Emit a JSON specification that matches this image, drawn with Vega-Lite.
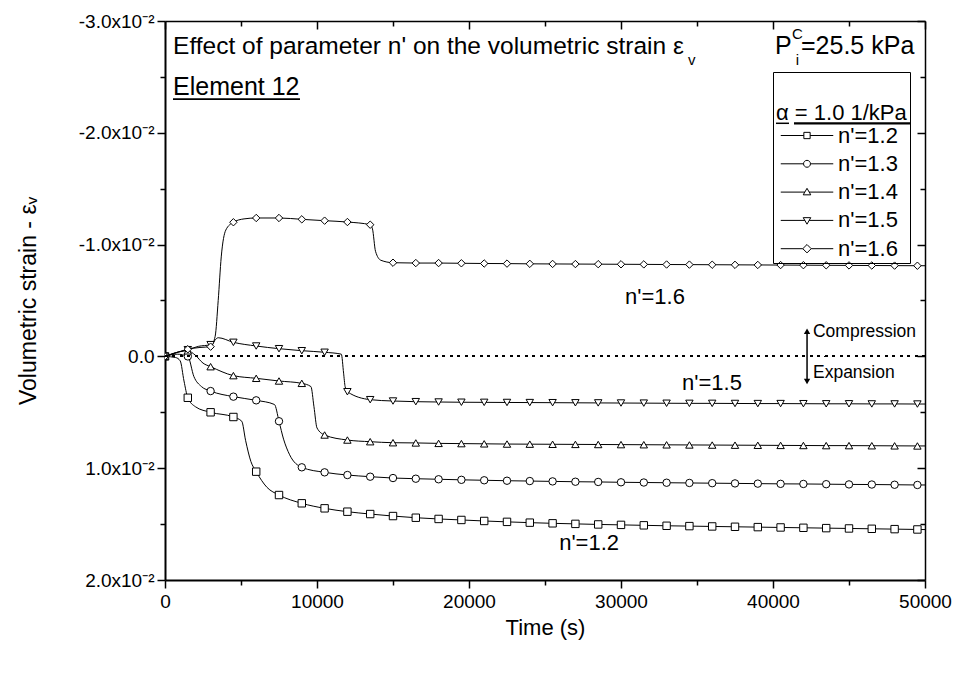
{
  "$schema": "https://vega.github.io/schema/vega-lite/v6.json",
  "width": 760,
  "height": 559,
  "autosize": "none",
  "padding": {"left": 165, "top": 21, "right": 36, "bottom": 95},
  "background": "white",
  "config": {
    "font": "Liberation Sans",
    "view": {"stroke": null},
    "axis": {"grid": false, "domainColor": "black", "tickColor": "black", "labelColor": "black", "titleColor": "black", "titleFontWeight": "normal", "labelFontSize": 19, "titleFontSize": 22, "tickWidth": 1.5, "labelOverlap": false, "labelFlush": false}
  },
  "data": {"values": [
    {"s":"1.2","t":0,"v":0,"m":1},{"s":"1.2","t":700,"v":0.0001,"m":0},{"s":"1.2","t":1000,"v":0.0004,"m":0},{"s":"1.2","t":1250,"v":0.0022,"m":0},{"s":"1.2","t":1500,"v":0.0037,"m":1},{"s":"1.2","t":2000,"v":0.0045,"m":0},{"s":"1.2","t":3000,"v":0.005,"m":1},{"s":"1.2","t":4500,"v":0.00542,"m":1},{"s":"1.2","t":5050,"v":0.0058,"m":0},{"s":"1.2","t":5300,"v":0.0075,"m":0},{"s":"1.2","t":5650,"v":0.0094,"m":0},{"s":"1.2","t":6000,"v":0.01031,"m":1},{"s":"1.2","t":6700,"v":0.0117,"m":0},{"s":"1.2","t":7500,"v":0.0124,"m":1},{"s":"1.2","t":9000,"v":0.01314,"m":1},{"s":"1.2","t":10500,"v":0.01359,"m":1},{"s":"1.2","t":12000,"v":0.01389,"m":1},{"s":"1.2","t":13500,"v":0.0141,"m":1},{"s":"1.2","t":15000,"v":0.01428,"m":1},{"s":"1.2","t":16500,"v":0.01443,"m":1},{"s":"1.2","t":18000,"v":0.01454,"m":1},{"s":"1.2","t":19500,"v":0.01463,"m":1},{"s":"1.2","t":21000,"v":0.01472,"m":1},{"s":"1.2","t":22500,"v":0.0148,"m":1},{"s":"1.2","t":24000,"v":0.01487,"m":1},{"s":"1.2","t":25500,"v":0.01493,"m":1},{"s":"1.2","t":27000,"v":0.01498,"m":1},{"s":"1.2","t":28500,"v":0.01503,"m":1},{"s":"1.2","t":30000,"v":0.01507,"m":1},{"s":"1.2","t":31500,"v":0.01511,"m":1},{"s":"1.2","t":33000,"v":0.01515,"m":1},{"s":"1.2","t":34500,"v":0.01518,"m":1},{"s":"1.2","t":36000,"v":0.01521,"m":1},{"s":"1.2","t":37500,"v":0.01524,"m":1},{"s":"1.2","t":39000,"v":0.01527,"m":1},{"s":"1.2","t":40500,"v":0.0153,"m":1},{"s":"1.2","t":42000,"v":0.01533,"m":1},{"s":"1.2","t":43500,"v":0.01536,"m":1},{"s":"1.2","t":45000,"v":0.01539,"m":1},{"s":"1.2","t":46500,"v":0.01542,"m":1},{"s":"1.2","t":48000,"v":0.01545,"m":1},{"s":"1.2","t":49500,"v":0.01548,"m":1},{"s":"1.2","t":50000,"v":0.01549,"m":0},
    {"s":"1.3","t":0,"v":0,"m":1},{"s":"1.3","t":800,"v":-0.0002,"m":0},{"s":"1.3","t":1500,"v":0.0,"m":1},{"s":"1.3","t":1900,"v":0.0018,"m":0},{"s":"1.3","t":2400,"v":0.0027,"m":0},{"s":"1.3","t":3000,"v":0.0031,"m":1},{"s":"1.3","t":4500,"v":0.0036,"m":1},{"s":"1.3","t":6000,"v":0.00393,"m":1},{"s":"1.3","t":7200,"v":0.0043,"m":0},{"s":"1.3","t":7500,"v":0.0058,"m":1},{"s":"1.3","t":7800,"v":0.0074,"m":0},{"s":"1.3","t":8200,"v":0.0088,"m":0},{"s":"1.3","t":9000,"v":0.00992,"m":1},{"s":"1.3","t":10500,"v":0.01037,"m":1},{"s":"1.3","t":12000,"v":0.01061,"m":1},{"s":"1.3","t":13500,"v":0.01076,"m":1},{"s":"1.3","t":15000,"v":0.01088,"m":1},{"s":"1.3","t":16500,"v":0.01094,"m":1},{"s":"1.3","t":18000,"v":0.01099,"m":1},{"s":"1.3","t":19500,"v":0.01104,"m":1},{"s":"1.3","t":21000,"v":0.01108,"m":1},{"s":"1.3","t":22500,"v":0.01112,"m":1},{"s":"1.3","t":24000,"v":0.01115,"m":1},{"s":"1.3","t":25500,"v":0.01118,"m":1},{"s":"1.3","t":27000,"v":0.01121,"m":1},{"s":"1.3","t":28500,"v":0.01123,"m":1},{"s":"1.3","t":30000,"v":0.01126,"m":1},{"s":"1.3","t":31500,"v":0.01128,"m":1},{"s":"1.3","t":33000,"v":0.0113,"m":1},{"s":"1.3","t":34500,"v":0.01132,"m":1},{"s":"1.3","t":36000,"v":0.01134,"m":1},{"s":"1.3","t":37500,"v":0.01136,"m":1},{"s":"1.3","t":39000,"v":0.01138,"m":1},{"s":"1.3","t":40500,"v":0.0114,"m":1},{"s":"1.3","t":42000,"v":0.01141,"m":1},{"s":"1.3","t":43500,"v":0.01143,"m":1},{"s":"1.3","t":45000,"v":0.01145,"m":1},{"s":"1.3","t":46500,"v":0.01146,"m":1},{"s":"1.3","t":48000,"v":0.01148,"m":1},{"s":"1.3","t":49500,"v":0.0115,"m":1},{"s":"1.3","t":50000,"v":0.0115,"m":0},
    {"s":"1.4","t":0,"v":0,"m":1},{"s":"1.4","t":900,"v":-0.0004,"m":0},{"s":"1.4","t":1500,"v":-0.0005,"m":1},{"s":"1.4","t":2000,"v":-0.0001,"m":0},{"s":"1.4","t":2500,"v":0.0006,"m":0},{"s":"1.4","t":3000,"v":0.00092,"m":1},{"s":"1.4","t":4500,"v":0.00172,"m":1},{"s":"1.4","t":6000,"v":0.00196,"m":1},{"s":"1.4","t":7500,"v":0.0022,"m":1},{"s":"1.4","t":9000,"v":0.00241,"m":1},{"s":"1.4","t":9600,"v":0.0027,"m":0},{"s":"1.4","t":9800,"v":0.0045,"m":0},{"s":"1.4","t":10000,"v":0.0064,"m":0},{"s":"1.4","t":10500,"v":0.00703,"m":1},{"s":"1.4","t":12000,"v":0.00748,"m":1},{"s":"1.4","t":13500,"v":0.00763,"m":1},{"s":"1.4","t":15000,"v":0.00772,"m":1},{"s":"1.4","t":16500,"v":0.00774,"m":1},{"s":"1.4","t":18000,"v":0.00778,"m":1},{"s":"1.4","t":19500,"v":0.0078,"m":1},{"s":"1.4","t":21000,"v":0.00782,"m":1},{"s":"1.4","t":22500,"v":0.00784,"m":1},{"s":"1.4","t":24000,"v":0.00785,"m":1},{"s":"1.4","t":25500,"v":0.00786,"m":1},{"s":"1.4","t":27000,"v":0.00787,"m":1},{"s":"1.4","t":28500,"v":0.00788,"m":1},{"s":"1.4","t":30000,"v":0.00789,"m":1},{"s":"1.4","t":31500,"v":0.0079,"m":1},{"s":"1.4","t":33000,"v":0.00791,"m":1},{"s":"1.4","t":34500,"v":0.00792,"m":1},{"s":"1.4","t":36000,"v":0.00793,"m":1},{"s":"1.4","t":37500,"v":0.00794,"m":1},{"s":"1.4","t":39000,"v":0.00795,"m":1},{"s":"1.4","t":40500,"v":0.00796,"m":1},{"s":"1.4","t":42000,"v":0.00797,"m":1},{"s":"1.4","t":43500,"v":0.00798,"m":1},{"s":"1.4","t":45000,"v":0.00798,"m":1},{"s":"1.4","t":46500,"v":0.00799,"m":1},{"s":"1.4","t":48000,"v":0.008,"m":1},{"s":"1.4","t":49500,"v":0.00801,"m":1},{"s":"1.4","t":50000,"v":0.00801,"m":0},
    {"s":"1.5","t":0,"v":0,"m":1},{"s":"1.5","t":900,"v":-0.0004,"m":0},{"s":"1.5","t":1500,"v":-0.0006,"m":1},{"s":"1.5","t":2200,"v":-0.0009,"m":0},{"s":"1.5","t":3000,"v":-0.00105,"m":1},{"s":"1.5","t":3500,"v":-0.00167,"m":0},{"s":"1.5","t":4500,"v":-0.00126,"m":1},{"s":"1.5","t":6000,"v":-0.00093,"m":1},{"s":"1.5","t":7500,"v":-0.00069,"m":1},{"s":"1.5","t":9000,"v":-0.00051,"m":1},{"s":"1.5","t":10500,"v":-0.00037,"m":1},{"s":"1.5","t":11600,"v":-0.0002,"m":0},{"s":"1.5","t":11750,"v":0.0015,"m":0},{"s":"1.5","t":11850,"v":0.0027,"m":0},{"s":"1.5","t":12000,"v":0.00316,"m":1},{"s":"1.5","t":13500,"v":0.00387,"m":1},{"s":"1.5","t":15000,"v":0.00399,"m":1},{"s":"1.5","t":16500,"v":0.00405,"m":1},{"s":"1.5","t":18000,"v":0.00408,"m":1},{"s":"1.5","t":19500,"v":0.0041,"m":1},{"s":"1.5","t":21000,"v":0.00411,"m":1},{"s":"1.5","t":22500,"v":0.00412,"m":1},{"s":"1.5","t":24000,"v":0.00413,"m":1},{"s":"1.5","t":25500,"v":0.00414,"m":1},{"s":"1.5","t":27000,"v":0.00415,"m":1},{"s":"1.5","t":28500,"v":0.00416,"m":1},{"s":"1.5","t":30000,"v":0.00417,"m":1},{"s":"1.5","t":31500,"v":0.00418,"m":1},{"s":"1.5","t":33000,"v":0.00419,"m":1},{"s":"1.5","t":34500,"v":0.0042,"m":1},{"s":"1.5","t":36000,"v":0.0042,"m":1},{"s":"1.5","t":37500,"v":0.00421,"m":1},{"s":"1.5","t":39000,"v":0.00422,"m":1},{"s":"1.5","t":40500,"v":0.00422,"m":1},{"s":"1.5","t":42000,"v":0.00423,"m":1},{"s":"1.5","t":43500,"v":0.00424,"m":1},{"s":"1.5","t":45000,"v":0.00424,"m":1},{"s":"1.5","t":46500,"v":0.00425,"m":1},{"s":"1.5","t":48000,"v":0.00425,"m":1},{"s":"1.5","t":49500,"v":0.00426,"m":1},{"s":"1.5","t":50000,"v":0.00426,"m":0},
    {"s":"1.6","t":0,"v":0,"m":1},{"s":"1.6","t":900,"v":-0.0004,"m":0},{"s":"1.6","t":1500,"v":-0.00064,"m":1},{"s":"1.6","t":2300,"v":-0.0008,"m":0},{"s":"1.6","t":3000,"v":-0.00087,"m":1},{"s":"1.6","t":3300,"v":-0.0018,"m":0},{"s":"1.6","t":3500,"v":-0.005,"m":0},{"s":"1.6","t":3700,"v":-0.0089,"m":0},{"s":"1.6","t":4000,"v":-0.0113,"m":0},{"s":"1.6","t":4500,"v":-0.012,"m":1},{"s":"1.6","t":5200,"v":-0.0123,"m":0},{"s":"1.6","t":6000,"v":-0.01238,"m":1},{"s":"1.6","t":7500,"v":-0.01238,"m":1},{"s":"1.6","t":9000,"v":-0.01226,"m":1},{"s":"1.6","t":10500,"v":-0.01214,"m":1},{"s":"1.6","t":12000,"v":-0.01202,"m":1},{"s":"1.6","t":13500,"v":-0.01178,"m":1},{"s":"1.6","t":13650,"v":-0.0114,"m":0},{"s":"1.6","t":13850,"v":-0.0094,"m":0},{"s":"1.6","t":14200,"v":-0.0086,"m":0},{"s":"1.6","t":15000,"v":-0.00838,"m":1},{"s":"1.6","t":16500,"v":-0.00835,"m":1},{"s":"1.6","t":18000,"v":-0.00835,"m":1},{"s":"1.6","t":19500,"v":-0.00833,"m":1},{"s":"1.6","t":21000,"v":-0.00831,"m":1},{"s":"1.6","t":22500,"v":-0.0083,"m":1},{"s":"1.6","t":24000,"v":-0.00828,"m":1},{"s":"1.6","t":25500,"v":-0.00827,"m":1},{"s":"1.6","t":27000,"v":-0.00826,"m":1},{"s":"1.6","t":28500,"v":-0.00825,"m":1},{"s":"1.6","t":30000,"v":-0.00824,"m":1},{"s":"1.6","t":31500,"v":-0.00823,"m":1},{"s":"1.6","t":33000,"v":-0.00822,"m":1},{"s":"1.6","t":34500,"v":-0.00821,"m":1},{"s":"1.6","t":36000,"v":-0.0082,"m":1},{"s":"1.6","t":37500,"v":-0.00819,"m":1},{"s":"1.6","t":39000,"v":-0.00818,"m":1},{"s":"1.6","t":40500,"v":-0.00817,"m":1},{"s":"1.6","t":42000,"v":-0.00816,"m":1},{"s":"1.6","t":43500,"v":-0.00815,"m":1},{"s":"1.6","t":45000,"v":-0.00814,"m":1},{"s":"1.6","t":46500,"v":-0.00813,"m":1},{"s":"1.6","t":48000,"v":-0.00812,"m":1},{"s":"1.6","t":49500,"v":-0.00811,"m":1},{"s":"1.6","t":50000,"v":-0.00811,"m":0}
  ]},
  "layer": [
    {"transform": [{"calculate": "\"n'=\" + datum.s", "as": "lab"}],
     "mark": {"type": "line", "strokeWidth": 1, "interpolate": "monotone"},
     "encoding": {
       "x": {"field": "t", "type": "quantitative", "scale": {"domain": [0, 50000], "nice": false, "zero": false},
         "axis": {"orient": "bottom", "title": "Time (s)", "values": [0,5000,10000,15000,20000,25000,30000,35000,40000,45000,50000],
           "labelExpr": "datum.value % 10000 == 0 ? format(datum.value, 'd') : ''",
           "tickSize": {"condition": {"test": "datum.value % 10000 == 0", "value": 8}, "value": 5},
           "domainWidth": 2, "labelPadding": 4, "titlePadding": 6}},
       "y": {"field": "v", "type": "quantitative", "scale": {"domain": [-0.03, 0.02], "reverse": true, "nice": false, "zero": false},
         "axis": {"orient": "left", "title": "Volumetric strain - εᵥ", "values": [-0.03,-0.025,-0.02,-0.015,-0.01,-0.005,0,0.005,0.01,0.015,0.02],
           "labelExpr": "datum.value == 0 ? '0.0' : (abs(round(datum.value*1000)) % 10 != 0 ? '' : replace(format(datum.value*100, '.1f'), '−', '-') + 'x10⁻²')",
           "tickSize": {"condition": {"test": "abs(round(datum.value*1000)) % 10 == 0", "value": 8}, "value": 5},
           "domainWidth": 2, "labelPadding": 3, "titleFontSize": 23, "titleX": -137, "titleY": 279.5, "titleAngle": 270, "titleBaseline": "middle", "titleAlign": "center"}},
       "color": {"field": "lab", "type": "nominal", "scale": {"domain": ["n'=1.2","n'=1.3","n'=1.4","n'=1.5","n'=1.6"], "range": ["black","black","black","black","black"]},
         "legend": {"orient": "none", "legendX": 608, "legendY": 51, "title": ["", "α = 1.0 1/kPa"], "titleFontSize": 22, "titleFontWeight": "normal", "titleColor": "black", "titleLineHeight": 27.5, "titlePadding": 0, "labelFontSize": 22, "labelColor": "black", "symbolType": "M-2.5,0H2.5", "symbolSize": 441, "symbolStrokeWidth": 1, "symbolStrokeColor": "black", "symbolFillColor": "white", "symbolOffset": 20, "labelOffset": 20, "rowPadding": 6.3, "padding": 3, "strokeColor": "black",
           "encode": {"symbols": {"update": {
             "shape": {"signal": "datum.index == 0 ? 'M-2.5,0H-0.3M0.3,0H2.5M-0.3,-0.3H0.3V0.3H-0.3Z' : datum.index == 1 ? 'M-2.5,0H-0.33M0.33,0H2.5M-0.33,0A0.33,0.33,0,1,0,0.33,0A0.33,0.33,0,1,0,-0.33,0Z' : datum.index == 2 ? 'M-2.5,0H-0.2M0.2,0H2.5M-0.36,0.26L0,-0.36L0.36,0.26Z' : datum.index == 3 ? 'M-2.5,0H-0.2M0.2,0H2.5M-0.36,-0.26L0,0.36L0.36,-0.26Z' : 'M-2.5,0H-0.4M0.4,0H2.5M-0.4,0L0,-0.4L0.4,0L0,0.4Z'"},
             "fill": {"value": "white"}, "stroke": {"value": "black"}, "strokeWidth": {"value": 1}, "opacity": {"value": 1}}}}}}}},
    {"transform": [{"filter": "datum.m == 1"}],
     "mark": {"type": "point", "filled": true, "fill": "white", "stroke": "black", "strokeWidth": 1, "size": 55, "opacity": 1, "clip": true},
     "encoding": {
       "x": {"field": "t", "type": "quantitative", "axis": null},
       "y": {"field": "v", "type": "quantitative", "axis": null},
       "shape": {"field": "s", "type": "nominal", "scale": {"domain": ["1.2","1.3","1.4","1.5","1.6"], "range": ["square","circle","triangle-up","triangle-down","diamond"]}, "legend": null}}},
    {"data": {"values": [{"t": 0, "v": 0}]},
     "mark": {"type": "point", "opacity": 0},
     "encoding": {
       "x": {"field": "t", "type": "quantitative", "axis": {"orient": "top", "title": null, "labels": false, "values": [0,5000,10000,15000,20000,25000,30000,35000,40000,45000,50000], "tickSize": {"condition": {"test": "datum.value % 10000 == 0", "value": -8}, "value": -5}, "domainWidth": 1.5}},
       "y": {"field": "v", "type": "quantitative", "axis": {"orient": "right", "title": null, "labels": false, "values": [-0.03,-0.025,-0.02,-0.015,-0.01,-0.005,0,0.005,0.01,0.015,0.02], "tickSize": {"condition": {"test": "abs(round(datum.value*1000)) % 10 == 0", "value": -8}, "value": -5}, "domainWidth": 1.5}}}},
    {"mark": {"type": "rule", "color": "black", "strokeWidth": 1, "strokeDash": [2.5, 5]}, "encoding": {"y": {"datum": 0, "type": "quantitative", "axis": null}}},
    {"data": {"values": [{}]}, "mark": {"type": "text", "fontSize": 24.5, "align": "left", "baseline": "middle", "color": "black"}, "encoding": {"x": {"datum": 530, "type": "quantitative", "axis": null}, "y": {"datum": -0.0277, "type": "quantitative", "axis": null}, "text": {"value": "Effect of parameter n' on the volumetric strain ε"}}},
    {"data": {"values": [{}]}, "mark": {"type": "text", "fontSize": 15, "align": "left", "baseline": "middle", "color": "black"}, "encoding": {"x": {"datum": 34408, "type": "quantitative", "axis": null}, "y": {"datum": -0.02651, "type": "quantitative", "axis": null}, "text": {"value": "v"}}},
    {"data": {"values": [{}]}, "mark": {"type": "text", "fontSize": 25, "align": "left", "baseline": "middle", "color": "black"}, "encoding": {"x": {"datum": 530, "type": "quantitative", "axis": null}, "y": {"datum": -0.0241, "type": "quantitative", "axis": null}, "text": {"value": "Element 12"}}},
    {"data": {"values": [{}]}, "mark": {"type": "rule", "color": "black", "strokeWidth": 1.8}, "encoding": {"x": {"datum": 526, "type": "quantitative", "axis": null}, "x2": {"datum": 8881}, "y": {"datum": -0.02302, "type": "quantitative", "axis": null}}},
    {"data": {"values": [{}]}, "mark": {"type": "text", "fontSize": 25, "align": "left", "baseline": "middle", "color": "black"}, "encoding": {"x": {"datum": 40132, "type": "quantitative", "axis": null}, "y": {"datum": -0.02776, "type": "quantitative", "axis": null}, "text": {"value": "P"}}},
    {"data": {"values": [{}]}, "mark": {"type": "text", "fontSize": 15, "align": "left", "baseline": "middle", "color": "black"}, "encoding": {"x": {"datum": 41250, "type": "quantitative", "axis": null}, "y": {"datum": -0.02884, "type": "quantitative", "axis": null}, "text": {"value": "C"}}},
    {"data": {"values": [{}]}, "mark": {"type": "text", "fontSize": 15, "align": "left", "baseline": "middle", "color": "black"}, "encoding": {"x": {"datum": 41500, "type": "quantitative", "axis": null}, "y": {"datum": -0.02651, "type": "quantitative", "axis": null}, "text": {"value": "i"}}},
    {"data": {"values": [{}]}, "mark": {"type": "text", "fontSize": 25, "align": "left", "baseline": "middle", "color": "black"}, "encoding": {"x": {"datum": 41842, "type": "quantitative", "axis": null}, "y": {"datum": -0.02776, "type": "quantitative", "axis": null}, "text": {"value": "=25.5 kPa"}}},
    {"data": {"values": [{}]}, "mark": {"type": "rule", "color": "black", "strokeWidth": 1.5}, "encoding": {"x": {"datum": 40197, "type": "quantitative", "axis": null}, "x2": {"datum": 41053}, "y": {"datum": -0.02085, "type": "quantitative", "axis": null}}},
    {"data": {"values": [{}]}, "mark": {"type": "rule", "color": "black", "strokeWidth": 2.2}, "encoding": {"x": {"datum": 41382, "type": "quantitative", "axis": null}, "x2": {"datum": 49013}, "y": {"datum": -0.02085, "type": "quantitative", "axis": null}}},
    {"data": {"values": [{}]}, "mark": {"type": "text", "fontSize": 22, "align": "center", "baseline": "middle", "color": "black"}, "encoding": {"x": {"datum": 32237, "type": "quantitative", "axis": null}, "y": {"datum": -0.00531, "type": "quantitative", "axis": null}, "text": {"value": "n'=1.6"}}},
    {"data": {"values": [{}]}, "mark": {"type": "text", "fontSize": 22, "align": "center", "baseline": "middle", "color": "black"}, "encoding": {"x": {"datum": 35987, "type": "quantitative", "axis": null}, "y": {"datum": 0.00238, "type": "quantitative", "axis": null}, "text": {"value": "n'=1.5"}}},
    {"data": {"values": [{}]}, "mark": {"type": "text", "fontSize": 22, "align": "center", "baseline": "middle", "color": "black"}, "encoding": {"x": {"datum": 27900, "type": "quantitative", "axis": null}, "y": {"datum": 0.01667, "type": "quantitative", "axis": null}, "text": {"value": "n'=1.2"}}},
    {"data": {"values": [{}]}, "mark": {"type": "text", "fontSize": 17.5, "align": "left", "baseline": "middle", "color": "black"}, "encoding": {"x": {"datum": 42630, "type": "quantitative", "axis": null}, "y": {"datum": -0.00218, "type": "quantitative", "axis": null}, "text": {"value": "Compression"}}},
    {"data": {"values": [{}]}, "mark": {"type": "text", "fontSize": 17.5, "align": "left", "baseline": "middle", "color": "black"}, "encoding": {"x": {"datum": 42630, "type": "quantitative", "axis": null}, "y": {"datum": 0.00148, "type": "quantitative", "axis": null}, "text": {"value": "Expansion"}}},
    {"data": {"values": [{}]}, "mark": {"type": "rule", "color": "black", "strokeWidth": 1.5}, "encoding": {"x": {"datum": 42240, "type": "quantitative", "axis": null}, "y": {"datum": -0.0021, "type": "quantitative", "axis": null}, "y2": {"datum": 0.0021}}},
    {"data": {"values": [{}]}, "mark": {"type": "point", "shape": "triangle-up", "filled": true, "color": "black", "size": 40, "opacity": 1}, "encoding": {"x": {"datum": 42240, "type": "quantitative", "axis": null}, "y": {"datum": -0.00225, "type": "quantitative", "axis": null}}},
    {"data": {"values": [{}]}, "mark": {"type": "point", "shape": "triangle-down", "filled": true, "color": "black", "size": 40, "opacity": 1}, "encoding": {"x": {"datum": 42240, "type": "quantitative", "axis": null}, "y": {"datum": 0.00225, "type": "quantitative", "axis": null}}}
  ],
  "resolve": {"legend": {"color": "independent", "shape": "independent"}}
}
